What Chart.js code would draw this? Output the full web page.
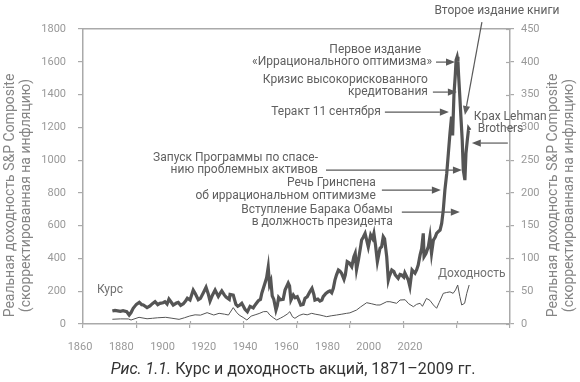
<!DOCTYPE html>
<html><head><meta charset="utf-8">
<script src="https://cdn.jsdelivr.net/npm/chart.js@4.4.1/dist/chart.umd.min.js"></script>
<style>
html,body{margin:0;padding:0;background:#fff;}
#wrap{position:relative;width:580px;height:382px;}
#caption{position:absolute;left:0;top:359px;width:586px;text-align:center;font-family:Roboto,sans-serif;font-size:16px;line-height:20px;color:#333;white-space:nowrap;}
#caption i{font-style:italic;}
</style></head><body>
<div id="wrap"><canvas id="c" width="580" height="382"></canvas>
<div id="caption"><i>Рис. 1.1.</i> Курс и доходность акций, 1871–2009 гг.</div></div>
<script>
// ---- data ----
const priceYears = [1871.0,1872.0,1873.0,1874.0,1875.0,1876.4,1877.3,1878.0,1878.8,1880.0,1881.1,1882.0,1882.6,1884.0,1885.1,1886.0,1887.0,1888.0,1888.8,1890.0,1890.7,1891.5,1892.2,1893.0,1893.8,1895.0,1895.7,1896.6,1897.6,1898.5,1899.1,1900.1,1901.3,1902.0,1903.2,1904.0,1905.1,1906.1,1907.0,1907.6,1908.5,1909.5,1910.7,1911.5,1912.0,1913.0,1913.6,1914.8,1915.1,1916.3,1917.3,1918.0,1918.8,1919.5,1920.7,1921.6,1922.6,1923.8,1924.5,1925.7,1926.5,1927.0,1928.2,1928.8,1929.4,1929.9,1930.4,1930.9,1931.5,1932.3,1932.8,1933.3,1934.0,1935.0,1935.7,1936.9,1937.4,1937.9,1938.8,1939.5,1940.3,1941.0,1941.6,1942.5,1943.2,1944.0,1945.0,1945.8,1946.5,1946.9,1948.0,1948.8,1949.5,1950.0,1951.0,1951.9,1952.5,1953.2,1953.8,1954.4,1955.0,1955.7,1956.3,1956.9,1957.8,1958.3,1959.0,1959.8,1960.7,1961.5,1962.0,1962.5,1963.2,1964.0,1964.4,1965.0,1965.7,1966.3,1966.9,1967.8,1968.5,1969.0,1969.6,1970.3,1970.8,1971.3,1971.9,1972.5,1973.0,1973.8,1974.4,1974.8,1975.7,1976.5,1977.0,1978.1,1978.8,1979.4,1980.2,1980.6,1981.2,1981.9,1982.5,1983.3,1984.4,1985.0,1985.6,1986.3,1986.9,1987.5,1987.8,1988.5,1989.4,1990.0,1990.6,1991.3,1992.0,1992.5,1993.2,1993.8,1994.4,1995.0,1995.6,1996.3,1996.9,1997.5,1998.1,1998.5,1999.0,1999.5,1999.8,2000.2,2000.5,2000.7,2001.2,2001.6,2002.1,2002.5,2003.1,2003.5,2004.0,2004.5,2005.0];
const priceValues = [79,83,80,77,81,75,55,70,96,120,132,118,116,100,110,124,136,118,126,130,136,122,152,134,116,128,132,114,124,142,157,146,207,188,148,156,191,224,180,140,176,207,168,190,202,176,164,150,180,176,120,108,116,126,90,75,108,98,116,142,150,188,250,282,346,240,262,172,150,85,112,162,148,150,207,250,232,146,177,160,167,140,116,120,157,166,197,218,180,146,152,140,146,167,186,197,202,190,218,268,300,329,322,309,272,300,380,372,350,410,431,332,390,470,512,530,553,512,470,543,522,553,482,380,422,462,472,533,520,411,268,292,329,320,300,279,302,299,286,312,292,268,228,330,310,330,360,420,460,553,411,430,472,533,431,512,530,553,565,573,614,695,817,919,1041,1163,1265,1150,1400,1520,1610,1630,1600,1529,1387,1265,1122,939,878,1041,1122,1194,1183];
const yieldYears = [1871,1874,1877,1878,1881,1884,1886,1888,1891,1893,1896,1898,1900,1902,1904,1906.5,1909,1911,1913,1914.5,1916.3,1917.5,1918.5,1920,1921.4,1923,1924.5,1926,1927.6,1929,1930,1931.5,1932.6,1934,1935,1936.5,1937.5,1938.5,1939.4,1941,1942.5,1944,1945.7,1947,1948.8,1950,1951.3,1953,1955,1957,1958.8,1960,1962.5,1964,1966.3,1968,1970,1971.3,1973.8,1975,1977.5,1978.8,1980.7,1982,1983.8,1985,1986.3,1987.2,1988.7,1990,1991.3,1992.5,1993.5,1995,1996.2,1997.5,1998.7,1999.6,2000.4,2001.2,2001.9,2003,2003.8,2004.7];
const yieldValues = [7.2,7.8,7.7,6.1,10.2,8.0,8.7,9.5,10.2,9.0,7.1,9.5,12.2,14.0,13.5,17.3,13.7,16.3,15.0,13.7,25.0,18.0,13.7,10.0,6.1,12.0,14.0,16.0,18.8,19.0,13.7,9.0,6.1,9.0,11.2,15.0,18.8,11.0,8.7,13.0,15.2,14.0,16.3,15.0,13.7,12.5,11.2,12.5,13.7,15.0,16.3,17.0,21.3,26.0,32.5,31.0,29.0,29.0,34.0,34.0,31.6,36.6,37.0,31.0,26.4,30.0,31.6,27.0,39.0,36.0,29.0,24.0,33.0,46.8,48.0,49.0,46.8,52.0,59.5,42.0,29.0,31.6,46.8,59.5];
const xTickLabels = [1860,1880,1900,1920,1940,1960,1980,2000,2020];
const leftTitle = ['Реальная доходность S&P Composite','(скорректированная на инфляцию)'];
const rightTitle = ['Реальная доходность S&P Composite','(скорректированная на инфляцию)'];
const seriesLabels = ['Курс','Доходность'];
const annotTexts = [
  ['Второе издание книги'],
  ['Первое издание','«Иррационального оптимизма»'],
  ['Кризис высокорискованного','кредитования'],
  ['Теракт 11 сентября'],
  ['Крах Lehman','Brothers'],
  ['Запуск Программы по спасе-','нию проблемных активов'],
  ['Речь Гринспена','об иррациональном оптимизме'],
  ['Вступление Барака Обамы','в должность президента']
];
// arrow tips in data units (year, price); arrow tail & text as pixel offsets from tip
const annotLayout = [
  {tip:[2003.1,1275], from:[17,-93], align:'center', text:[[32,-104]]},
  {tip:[1999.4,1598], from:[-19,0], align:'right', text:[[-34,-12],[-23,0]]},
  {tip:[2000.1,1415], from:[-24,0], align:'right', text:[[-29,-12],[-29,0]]},
  {tip:[1997.1,1293], from:[-64,0], align:'right', text:[[-68,0]]},
  {tip:[2005.7,1104], from:[36,0], align:'left', text:[[2,-26],[6,-14]]},
  {tip:[2002.0,939], from:[-136,0], align:'right', text:[[-144,-12],[-144,0]]},
  {tip:[1994.1,817], from:[-59,0], align:'right', text:[[-65,-7],[-65,6]]},
  {tip:[2001.2,683], from:[-58,0], align:'right', text:[[-67,-2],[-67,10]]}
];
const seriesLabelPos = [[1865.2,207,'left'],[1993.0,305,'left']];

const FONT = 'Roboto, "Open Sans", sans-serif';
const AXIS = '#aaaaaa';

function drawArrow(ctx, sx, sy, tx, ty){
  const ang = Math.atan2(ty-sy, tx-sx), L = 9, W = 3.6;
  const bx = tx - L*Math.cos(ang), by = ty - L*Math.sin(ang);
  ctx.beginPath(); ctx.moveTo(sx,sy); ctx.lineTo(bx,by); ctx.stroke();
  ctx.beginPath();
  ctx.moveTo(tx,ty);
  ctx.lineTo(bx + W*Math.sin(ang), by - W*Math.cos(ang));
  ctx.lineTo(bx - W*Math.sin(ang), by + W*Math.cos(ang));
  ctx.closePath(); ctx.fill();
}

const decorPlugin = {
  id:'decor',
  afterDraw(chart){
    const ctx = chart.ctx, xs = chart.scales.x, ys = chart.scales.y, y2 = chart.scales.y2;
    const ca = chart.chartArea;
    ctx.save();
    // inward halves of tick marks (x axis and right axis)
    ctx.strokeStyle = AXIS; ctx.lineWidth = 1.2;
    xs.ticks.forEach(t=>{ const p = Math.round(xs.getPixelForValue(t.value))+0.5;
      if (p>ca.left+2 && p<ca.right-2){ ctx.beginPath(); ctx.moveTo(p,ca.bottom); ctx.lineTo(p,ca.bottom-3); ctx.stroke(); }});
    y2.ticks.forEach(t=>{ const p = Math.round(y2.getPixelForValue(t.value))+0.5;
      ctx.beginPath(); ctx.moveTo(ca.right,p); ctx.lineTo(ca.right-4,p); ctx.stroke(); });
    // axis titles
    ctx.fillStyle = '#858585'; ctx.font = '14px '+FONT; ctx.textAlign='center'; ctx.textBaseline='middle';
    const midY = (ca.top+ca.bottom)/2 + 19;
    [[10,leftTitle[0]],[26,leftTitle[1]],[553,rightTitle[0]],[569,rightTitle[1]]].forEach(([x,t])=>{
      ctx.save(); ctx.translate(x, midY); ctx.rotate(-Math.PI/2); ctx.fillText(t,0,0); ctx.restore();
    });
    // annotations
    ctx.font = '12px '+FONT; ctx.fillStyle = '#606060'; ctx.strokeStyle = '#5a5a5a'; ctx.lineWidth = 1.2;
    annotTexts.forEach((lines,i)=>{
      const L = annotLayout[i];
      const tx = xs.getPixelForValue(L.tip[0]), ty = ys.getPixelForValue(L.tip[1]);
      drawArrow(ctx, tx+L.from[0], ty+L.from[1], tx, ty);
      ctx.fillStyle = '#606060';
      ctx.textAlign = L.align;
      lines.forEach((s,j)=> ctx.fillText(s, tx+L.text[j][0], ty+L.text[j][1]));
      ctx.fillStyle = '#5a5a5a';
    });
    ctx.fillStyle = '#707070';
    seriesLabels.forEach((s,i)=>{
      const p = seriesLabelPos[i]; ctx.textAlign = p[2];
      ctx.fillText(s, xs.getPixelForValue(p[0]), ys.getPixelForValue(p[1]));
    });
    ctx.restore();
  }
};

const tickFont = {family:FONT, size:11};
const plain = (v)=>String(v);
new Chart(document.getElementById('c'), {
  type:'line',
  data:{datasets:[
    {label:seriesLabels[0], data:priceYears.map((x,i)=>({x, y:priceValues[i]})), xAxisID:'x', yAxisID:'y',
     borderColor:'#555', borderWidth:3.2, pointRadius:0, tension:0, borderJoinStyle:'miter'},
    {label:seriesLabels[1], data:yieldYears.map((x,i)=>({x, y:yieldValues[i]})), xAxisID:'x', yAxisID:'y2',
     borderColor:'#555', borderWidth:1, pointRadius:0, tension:0}
  ]},
  options:{
    responsive:false, animation:false, devicePixelRatio:1,
    layout:{padding:{top:29,left:0,right:0,bottom:0}},
    plugins:{legend:{display:false}, tooltip:{enabled:false}},
    scales:{
      x:{type:'linear', position:'bottom', min:1860, max:2020,
         ticks:{display:false, stepSize:20},
         grid:{drawOnChartArea:false, drawTicks:true, tickLength:4, color:AXIS, lineWidth:1.2},
         border:{display:true, color:AXIS, width:1.5},
         afterFit(s){ s.height = 4; }},
      x2:{type:'linear', position:'bottom', min:1861.45, max:2068.5,
         afterBuildTicks(s){ s.ticks = xTickLabels.map(v=>({value:v})); },
         ticks:{autoSkip:false, maxRotation:0, padding:13, color:'#999', font:tickFont, callback:plain},
         grid:{display:false, drawTicks:false}, border:{display:false},
         afterFit(s){ s.height = 54; }},
      xt:{type:'linear', position:'top', min:1860, max:2020,
         ticks:{display:false}, grid:{display:false, drawTicks:false},
         border:{display:true, color:AXIS, width:1.5},
         afterFit(s){ s.height = 0; }},
      y:{type:'linear', position:'left', min:0, max:1800,
         ticks:{stepSize:200, padding:12, color:'#999', font:tickFont, callback:plain},
         grid:{drawOnChartArea:false, tickLength:5, color:AXIS, lineWidth:1.2},
         border:{color:AXIS, width:1.5},
         afterFit(s){ s.width = 83; }},
      y2:{type:'linear', position:'right', min:0, max:450,
         ticks:{stepSize:50, padding:7, color:'#999', font:tickFont, callback:plain},
         grid:{drawOnChartArea:false, tickLength:4, color:AXIS, lineWidth:1.2},
         border:{color:AXIS, width:1.5},
         afterFit(s){ s.width = 70; }}
    }
  },
  plugins:[decorPlugin]
});
</script>
</body></html>
